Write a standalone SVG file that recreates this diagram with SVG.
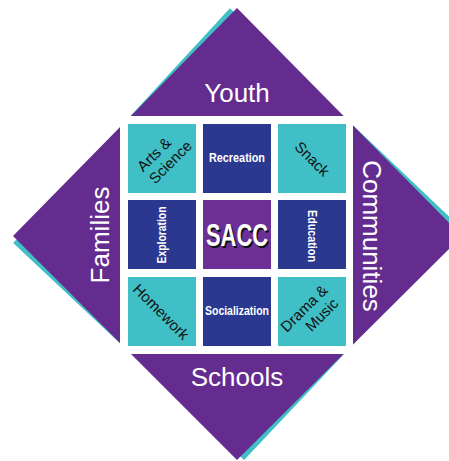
<svg xmlns="http://www.w3.org/2000/svg" width="449" height="461" viewBox="0 0 449 461">
<style>
.purple{fill:#652c90}
.teal{fill:#40bfc6}
.navy{fill:#2a388f}
.big{font-family:"Liberation Sans",Arial,sans-serif;font-size:26px;fill:#fff;text-anchor:middle}
.lbl{font-family:"Liberation Sans",Arial,sans-serif;text-anchor:middle}
.dark{fill:#111;font-size:15px}
.light{fill:#fff;font-size:12px;font-weight:bold}
</style>
<rect width="449" height="461" fill="#fff"/>
<g id="shadow">
<polygon class="teal" points="237,8 462,236 237,460 13,236" transform="rotate(-1.8 237.5 234)"/>
</g>
<g id="frame">
<polygon class="purple" points="237,8 462,236 237,460 13,236"/>
<rect x="120" y="116" width="233" height="238" fill="#fff"/>
</g>
<g id="youth"><text class="big" x="237" y="102">Youth</text></g>
<g id="schools"><text class="big" x="237" y="386">Schools</text></g>
<g id="families"><text class="big" transform="translate(109 235) rotate(-90)">Families</text></g>
<g id="communities"><text class="big" transform="translate(363 236) rotate(90)">Communities</text></g>
<g id="arts-science">
<rect class="teal" x="128" y="124" width="68" height="69"/>
<text class="lbl dark" transform="translate(162 158) rotate(-45)"><tspan x="-3" y="-3">Arts &amp;</tspan><tspan x="3" y="14">Science</tspan></text>
</g>
<g id="recreation">
<rect class="navy" x="203" y="124" width="68" height="69"/>
<text class="lbl light" x="237" y="162" textLength="56" lengthAdjust="spacingAndGlyphs">Recreation</text>
</g>
<g id="snack">
<rect class="teal" x="278" y="124" width="68" height="69"/>
<text class="lbl dark" transform="translate(312 159) rotate(45)" y="5" font-size="16">Snack</text>
</g>
<g id="exploration">
<rect class="navy" x="128" y="200" width="68" height="69"/>
<text class="lbl light" transform="translate(166 235) rotate(-90)" textLength="57" lengthAdjust="spacingAndGlyphs">Exploration</text>
</g>
<g id="sacc">
<rect x="203" y="200" width="68" height="69" fill="#6b2f96"/>
<text class="lbl" x="238.5" y="247.5" font-size="31" font-weight="bold" fill="#111" textLength="62" lengthAdjust="spacingAndGlyphs">SACC</text>
<text class="lbl" x="237" y="246" font-size="31" font-weight="bold" fill="#fff" textLength="62" lengthAdjust="spacingAndGlyphs">SACC</text>
</g>
<g id="education">
<rect class="navy" x="278" y="200" width="68" height="69"/>
<text class="lbl light" transform="translate(308 236) rotate(90)" textLength="52" lengthAdjust="spacingAndGlyphs">Education</text>
</g>
<g id="homework">
<rect class="teal" x="128" y="277" width="68" height="69"/>
<text class="lbl dark" transform="translate(161 312) rotate(45)" y="5">Homework</text>
</g>
<g id="socialization">
<rect class="navy" x="203" y="277" width="68" height="69"/>
<text class="lbl light" x="237" y="315" textLength="64" lengthAdjust="spacingAndGlyphs">Socialization</text>
</g>
<g id="drama-music">
<rect class="teal" x="278" y="277" width="68" height="69"/>
<text class="lbl dark" transform="translate(312 312) rotate(-45)"><tspan x="-3" y="-3">Drama &amp;</tspan><tspan x="5" y="14">Music</tspan></text>
</g>
</svg>
